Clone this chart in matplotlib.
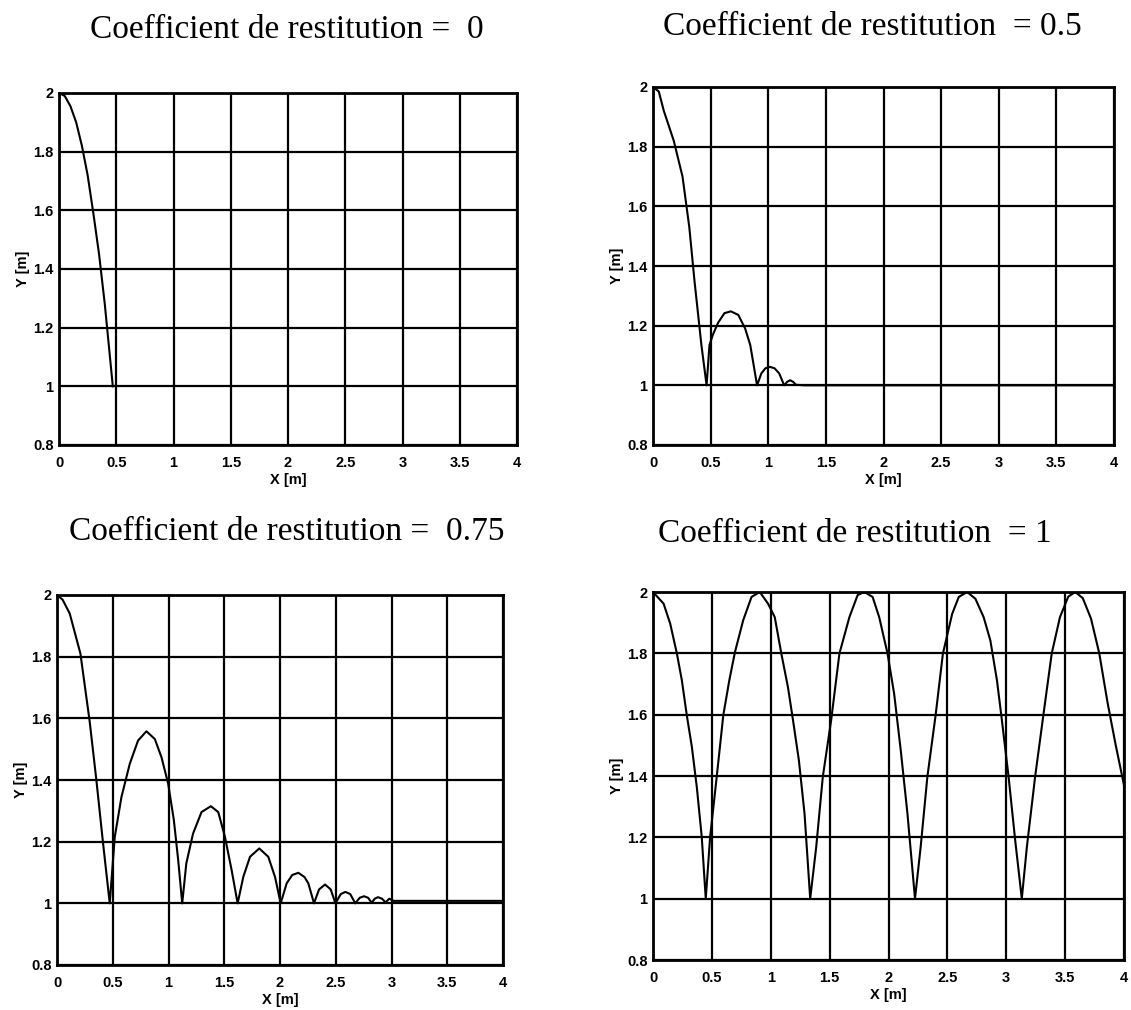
import matplotlib
matplotlib.use("Agg")
import matplotlib.pyplot as plt

# points, x [m] / y [m]
x_e0 = [0, 0.05, 0.10, 0.15, 0.20, 0.25, 0.30, 0.35, 0.40, 0.45, 0.47]
y_e0 = [2.0, 1.99, 1.955, 1.90, 1.82, 1.72, 1.59, 1.45, 1.28, 1.08, 1.0]

x_e05 = [0, 0.05, 0.094, 0.18, 0.256, 0.315, 0.36, 0.42, 0.465,
         0.49, 0.52, 0.565, 0.62, 0.676, 0.74, 0.80, 0.844, 0.903,
         0.94, 0.975, 1.015, 1.055, 1.095, 1.138,
         1.165, 1.19, 1.215, 1.24, 1.31, 4.0]
y_e05 = [2.0, 1.985, 1.92, 1.82, 1.70, 1.53, 1.35, 1.135, 1.0,
         1.135, 1.17, 1.21, 1.242, 1.248, 1.236, 1.19, 1.135, 1.0,
         1.04, 1.057, 1.062, 1.057, 1.04, 1.0,
         1.012, 1.017, 1.012, 1.002, 1.0, 1.0]

x_e075 = [0, 0.05, 0.114, 0.21, 0.293, 0.353, 0.413, 0.473,
          0.518, 0.578, 0.653, 0.727, 0.802, 0.877, 0.937, 0.997, 1.048, 1.087, 1.123,
          1.16, 1.22, 1.296, 1.38, 1.446, 1.506, 1.566, 1.62,
          1.671, 1.731, 1.814, 1.895, 1.955, 2.006,
          2.06, 2.11, 2.165, 2.22, 2.254, 2.305,
          2.35, 2.404, 2.455, 2.497,
          2.545, 2.586, 2.63, 2.675,
          2.715, 2.754, 2.79, 2.822,
          2.85, 2.879, 2.915, 2.947,
          2.98, 3.02, 3.3, 3.6, 4.0]
y_e075 = [2.0, 1.985, 1.94, 1.81, 1.59, 1.40, 1.195, 1.0,
          1.215, 1.345, 1.453, 1.528, 1.558, 1.533, 1.474, 1.388, 1.27, 1.14, 1.0,
          1.13, 1.226, 1.296, 1.315, 1.296, 1.216, 1.108, 1.0,
          1.086, 1.151, 1.178, 1.151, 1.086, 1.0,
          1.065, 1.092, 1.099, 1.085, 1.065, 1.0,
          1.045, 1.061, 1.045, 1.0,
          1.03, 1.037, 1.03, 1.0,
          1.018, 1.023, 1.018, 1.002,
          1.015, 1.02, 1.015, 1.003,
          1.015, 1.008, 1.008, 1.008, 1.008]

x_e1 = [0, 0.09, 0.146, 0.203, 0.245, 0.287, 0.33, 0.372, 0.414, 0.448,
        0.485, 0.541, 0.597, 0.648, 0.696, 0.766, 0.837, 0.907, 0.977, 1.034,
        1.09, 1.146, 1.189, 1.239, 1.287, 1.335,
        1.386, 1.442, 1.513, 1.583, 1.668, 1.738, 1.794, 1.865, 1.921, 1.992,
        2.048, 2.104, 2.161, 2.225,
        2.273, 2.33, 2.40, 2.462, 2.541, 2.597, 2.668, 2.738, 2.808, 2.865,
        2.921, 2.963, 3.02, 3.076, 3.132,
        3.175, 3.245, 3.315, 3.386, 3.456, 3.527, 3.586, 3.65, 3.72, 3.79,
        3.86, 3.93, 4.0]
y_e1 = [2.0, 1.962, 1.897, 1.799, 1.712, 1.598, 1.495, 1.364, 1.201, 1.0,
        1.201, 1.397, 1.598, 1.712, 1.804, 1.908, 1.984, 2.0, 1.962, 1.918,
        1.799, 1.69, 1.582, 1.451, 1.277, 1.0,
        1.168, 1.397, 1.582, 1.799, 1.918, 1.99, 2.0, 1.984, 1.918, 1.799,
        1.668, 1.484, 1.277, 1.0,
        1.168, 1.397, 1.598, 1.799, 1.929, 1.984, 2.0, 1.978, 1.918, 1.842,
        1.712, 1.582, 1.397, 1.19, 1.0,
        1.168, 1.397, 1.598, 1.799, 1.918, 1.985, 2.0, 1.98, 1.913, 1.80,
        1.64, 1.50, 1.37]

titles = ["Coefficient de restitution =  0",
          "Coefficient de restitution  = 0.5",
          "Coefficient de restitution =  0.75",
          "Coefficient de restitution  = 1"]

x_ticks = [0, 0.5, 1, 1.5, 2, 2.5, 3, 3.5, 4]
x_ticklabels = ["0", "0.5", "1", "1.5", "2", "2.5", "3", "3.5", "4"]
y_ticks = [0.8, 1, 1.2, 1.4, 1.6, 1.8, 2]
y_ticklabels = ["0.8", "1", "1.2", "1.4", "1.6", "1.8", "2"]

W, H = 1131, 1010
fig = plt.figure(figsize=(W / 100, H / 100), dpi=100)

# axes boxes in pixels: left, right, top, bottom
boxes = [(59, 517, 93, 445), (653, 1114, 87, 445),
         (57, 503, 595, 965), (653, 1124, 592, 960)]
title_pos = [(287, 38), (872, 35), (287, 540), (855, 542)]
curves = [(x_e0, y_e0), (x_e05, y_e05), (x_e075, y_e075), (x_e1, y_e1)]

for (l, r, t, b), (tx, ty), (xs, ys), ttl in zip(boxes, title_pos, curves, titles):
    ax = fig.add_axes([l / W, 1 - b / H, (r - l) / W, (b - t) / H])
    ax.plot(xs, ys, color="black", lw=1.5, zorder=3, clip_on=True)
    ax.set_xlim(0, 4)
    ax.set_ylim(0.8, 2)
    ax.set_xticks(x_ticks)
    ax.set_xticklabels(x_ticklabels)
    ax.set_yticks(y_ticks)
    ax.set_yticklabels(y_ticklabels)
    ax.grid(True, color="black", lw=1.6, ls="-")
    ax.set_axisbelow(True)
    for s in ax.spines.values():
        s.set_linewidth(2)
    ax.tick_params(length=0, labelsize=10.5)
    ax.tick_params(axis="x", pad=8)
    ax.tick_params(axis="y", pad=4)
    for lab in ax.get_xticklabels() + ax.get_yticklabels():
        lab.set_fontweight("bold")
        lab.set_family("Liberation Sans")
    ax.set_xlabel("X [m]", fontsize=10.5, fontweight="bold",
                  family="Liberation Sans", labelpad=2)
    ax.set_ylabel("Y [m]", fontsize=10.5, fontweight="bold",
                  family="Liberation Sans", labelpad=2)
    fig.text(tx / W, 1 - ty / H, ttl, ha="center", va="baseline",
             fontsize=24, family="Liberation Serif")

fig.savefig("out.png", dpi=100, facecolor="white")
